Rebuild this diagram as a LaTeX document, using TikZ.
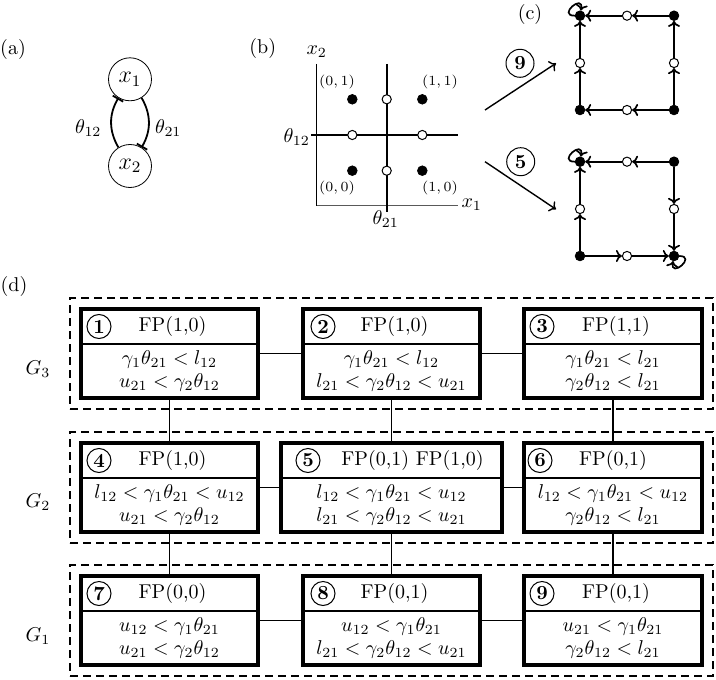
\documentclass[tikz,border=0pt]{standalone}
\usetikzlibrary{arrows.meta,fit}
\newcommand{\fpbox}[9]{%
  \node[fpb, minimum width=#4, anchor=north] (#1) at (#2,#3) {};
  \draw[hdr] ([yshift=-17.5pt]#1.north west) -- ([yshift=-17.5pt]#1.north east);
  \node[numc] (#1n) at ([xshift=#8, yshift=-8.75pt]#1.north west) {#5};
  \node[ttl] (#1t) at ([xshift=#9, yshift=-8.75pt]#1.north) {#6};
  \node[bod] (#1b) at ([yshift=13.5pt]#1.south) {#7};
}
\tikzset{
  fpb/.style={draw, line width=1.6pt, minimum height=44.5pt, inner sep=0pt, outer sep=0pt},
  hdr/.style={line width=0.8pt},
  numc/.style={circle, draw, line width=0.5pt, minimum size=12pt, inner sep=0pt, font=\bfseries},
  bignum/.style={circle, draw, line width=0.5pt, minimum size=14pt, inner sep=0pt, font=\bfseries},
  ttl/.style={inner sep=0pt},
  bod/.style={align=center, inner sep=0pt, font=\fontsize{10}{11.5}\selectfont},
  link/.style={line width=0.9pt},
  grp/.style={draw, dash pattern=on 4pt off 2.5pt, line width=1pt, inner sep=5.5pt},
  lbl/.style={inner sep=0pt},
  varc/.style={circle, draw, line width=0.4pt, minimum size=21.5pt, inner sep=0pt, font=\large},
  inh/.style={line width=0.9pt, -{Bar[width=6pt,line width=0.9pt]}},
  axis/.style={line width=0.5pt},
  xaxis/.style={line width=0.6pt, draw=black!65},
  thr/.style={line width=0.8pt},
  fdot/.style={circle, fill=black, draw=black, line width=0.4pt, inner sep=0pt, minimum size=4.8pt},
  odot/.style={circle, fill=white, draw=black, line width=0.5pt, inner sep=0pt, minimum size=4.6pt},
  tiny/.style={inner sep=0pt, font=\scriptsize},
  carr/.style={line width=0.85pt, -{To[length=3pt,width=6pt]}},
  cloop/.style={line width=0.85pt, -{To[length=3pt,width=6pt]}},
  parr/.style={line width=0.7pt, -{To[length=3pt,width=6pt]}},
}
\begin{document}
\begin{tikzpicture}[x=0.5pt,y=-0.5pt]
\useasboundingbox (0,0) rectangle (716,679);

% ---------- (a)
\node[lbl] (al) at (13,50) {(a)};
\node[varc] (x1) at (130,79.3) {$x_1$};
\node[varc] (x2) at (130,166) {$x_2$};
\draw[inh] (x2.122) to[bend left=30] (x1.238);
\draw[inh] (x1.302) to[bend left=30] (x2.58);
\node[lbl] (t12) at (88.3,128.3) {$\theta_{12}$};
\node[lbl] (t21) at (168.3,128.3) {$\theta_{21}$};

% ---------- (b)
\node[lbl] (bl) at (262.7,48.3) {(b)};
\coordinate (ytop) at (316.7,64);
\coordinate (orig) at (316.7,205.7);
\coordinate (xend) at (458.3,205.7);
\draw[axis] (ytop) -- (orig);
\draw[xaxis] (orig) -- (xend);
\node[lbl] (x2l) at (316.7,51.7) {$x_2$};
\node[lbl] (x1l) at (471.7,205) {$x_1$};
\coordinate (v1) at (386.7,64);
\coordinate (v2) at (386.7,211.7);
\coordinate (h1) at (311,135);
\coordinate (h2) at (458.3,135);
\draw[thr] (v1) -- (v2);
\draw[thr] (h1) -- (h2);
\node[lbl] (bt12) at (296.7,136.7) {$\theta_{12}$};
\node[lbl] (bt21) at (385.7,219) {$\theta_{21}$};
\node[fdot] (p01) at (352.3,99.3) {};
\node[fdot] (p11) at (422.3,99.3) {};
\node[fdot] (p00) at (352.3,170.7) {};
\node[fdot] (p10) at (422.3,170.7) {};
\node[odot] (qt) at (386.7,99.3) {};
\node[odot] (ql) at (352.3,135) {};
\node[odot] (qr) at (422.3,135) {};
\node[odot] (qb) at (386.7,170.7) {};
\node[tiny] (l01) at (337,82) {$(0,1)$};
\node[tiny] (l11) at (440,82) {$(1,1)$};
\node[tiny] (l00) at (337,188.3) {$(0,0)$};
\node[tiny] (l10) at (440,188.3) {$(1,0)$};

% ---------- (c)
\node[lbl] (cl) at (530,15) {(c)};
\node[bignum] (c9) at (520,63.3) {9};
\node[bignum] (c5) at (520.7,161.7) {5};
\coordinate (a9s) at (485,110);
\coordinate (a9e) at (556,63.3);
\coordinate (a5s) at (485,161.7);
\coordinate (a5e) at (556,209.3);
\draw[parr] (a9s) -- (a9e);
\draw[parr] (a5s) -- (a5e);
% upper square
\node[fdot] (u1) at (580,15.7) {};
\node[fdot] (u2) at (674,15.7) {};
\node[fdot] (u3) at (580,110) {};
\node[fdot] (u4) at (674,110) {};
\node[odot] (ut) at (627,15.7) {};
\node[odot] (ul) at (580,63) {};
\node[odot] (ur) at (674,63) {};
\node[odot] (ub) at (627,110) {};
\draw[carr] (u2) -- (ut); \draw[carr] (ut) -- (u1);
\draw[carr] (u3) -- (ul); \draw[carr] (ul) -- (u1);
\draw[carr] (u4) -- (ur); \draw[carr] (ur) -- (u2);
\draw[carr] (u4) -- (ub); \draw[carr] (ub) -- (u3);
\draw[cloop] (u1.180) .. controls +(180:9pt) and +(80:9pt) .. (u1.80);
% lower square
\node[fdot] (w1) at (580,161.7) {};
\node[fdot] (w2) at (674,161.7) {};
\node[fdot] (w3) at (580,256) {};
\node[fdot] (w4) at (674,256) {};
\node[odot] (wt) at (627,161.7) {};
\node[odot] (wl) at (580,209) {};
\node[odot] (wr) at (674,209) {};
\node[odot] (wb) at (627,256) {};
\draw[carr] (w2) -- (wt); \draw[carr] (wt) -- (w1);
\draw[carr] (w3) -- (wl); \draw[carr] (wl) -- (w1);
\draw[carr] (w2) -- (wr); \draw[carr] (wr) -- (w4);
\draw[carr] (w3) -- (wb); \draw[carr] (wb) -- (w4);
\draw[cloop] (w1.180) .. controls +(180:9pt) and +(80:9pt) .. (w1.80);
\draw[cloop] (w4.0) .. controls +(0:9pt) and +(-100:9pt) .. (w4.-100);

% ---------- (d)
\node[lbl] (dl) at (14,286) {(d)};
\fpbox{b1}{169.5}{309}{88.5pt}{1}{FP(1,0)}{$\gamma_1\theta_{21} < l_{12}$\\ $u_{21} < \gamma_2\theta_{12}$}{9pt}{1.5pt}
\fpbox{b2}{391.5}{309}{88.5pt}{2}{FP(1,0)}{$\gamma_1\theta_{21} < l_{12}$\\ $l_{21} < \gamma_2\theta_{12} < u_{21}$}{10pt}{1.5pt}
\fpbox{b3}{613}{309}{89pt}{3}{FP(1,1)}{$\gamma_1\theta_{21} < l_{21}$\\ $\gamma_2\theta_{12} < l_{21}$}{9pt}{1.5pt}
\fpbox{b4}{169.5}{443}{88.5pt}{4}{FP(1,0)}{$l_{12} < \gamma_1\theta_{21} < u_{12}$\\ $u_{21} < \gamma_2\theta_{12}$}{9pt}{1.5pt}
\fpbox{b5}{391.5}{443}{110.5pt}{5}{FP(0,1) FP(1,0)}{$l_{12} < \gamma_1\theta_{21} < u_{12}$\\ $l_{21} < \gamma_2\theta_{12} < u_{21}$}{13.5pt}{10.5pt}
\fpbox{b6}{613}{443}{89pt}{6}{FP(0,1)}{$l_{12} < \gamma_1\theta_{21} < u_{12}$\\ $\gamma_2\theta_{12} < l_{21}$}{8pt}{0pt}
\fpbox{b7}{169.5}{576}{88.5pt}{7}{FP(0,0)}{$u_{12} < \gamma_1\theta_{21}$\\ $u_{21} < \gamma_2\theta_{12}$}{9pt}{1.5pt}
\fpbox{b8}{391.5}{576}{88.5pt}{8}{FP(0,1)}{$u_{12} < \gamma_1\theta_{21}$\\ $l_{21} < \gamma_2\theta_{12} < u_{21}$}{10pt}{1.5pt}
\fpbox{b9}{613}{576}{89pt}{9}{FP(0,1)}{$u_{21} < \gamma_1\theta_{21}$\\ $\gamma_2\theta_{12} < l_{21}$}{9pt}{1.5pt}

\draw[link] (b1.east) -- (b2.west);
\draw[link] (b2.east) -- (b3.west);
\draw[link] (b4.east) -- (b5.west);
\draw[link] (b5.east) -- (b6.west);
\draw[link] (b7.east) -- (b8.west);
\draw[link] (b8.east) -- (b9.west);
\draw[link] (b1.south) -- (b4.north);
\draw[link] (b4.south) -- (b7.north);
\draw[link] (b2.south) -- (b5.north);
\draw[link] (b5.south) -- (b8.north);
\draw[link] (b3.south) -- (b6.north);
\draw[link] (b6.south) -- (b9.north);

\node[grp, fit=(b1)(b3)] (g3) {};
\node[grp, fit=(b4)(b6)] (g2) {};
\node[grp, fit=(b7)(b9)] (g1) {};
\node[lbl] (g3l) at (38,369) {$G_3$};
\node[lbl] (g2l) at (38,502) {$G_2$};
\node[lbl] (g1l) at (38,636) {$G_1$};
\end{tikzpicture}
\end{document}
